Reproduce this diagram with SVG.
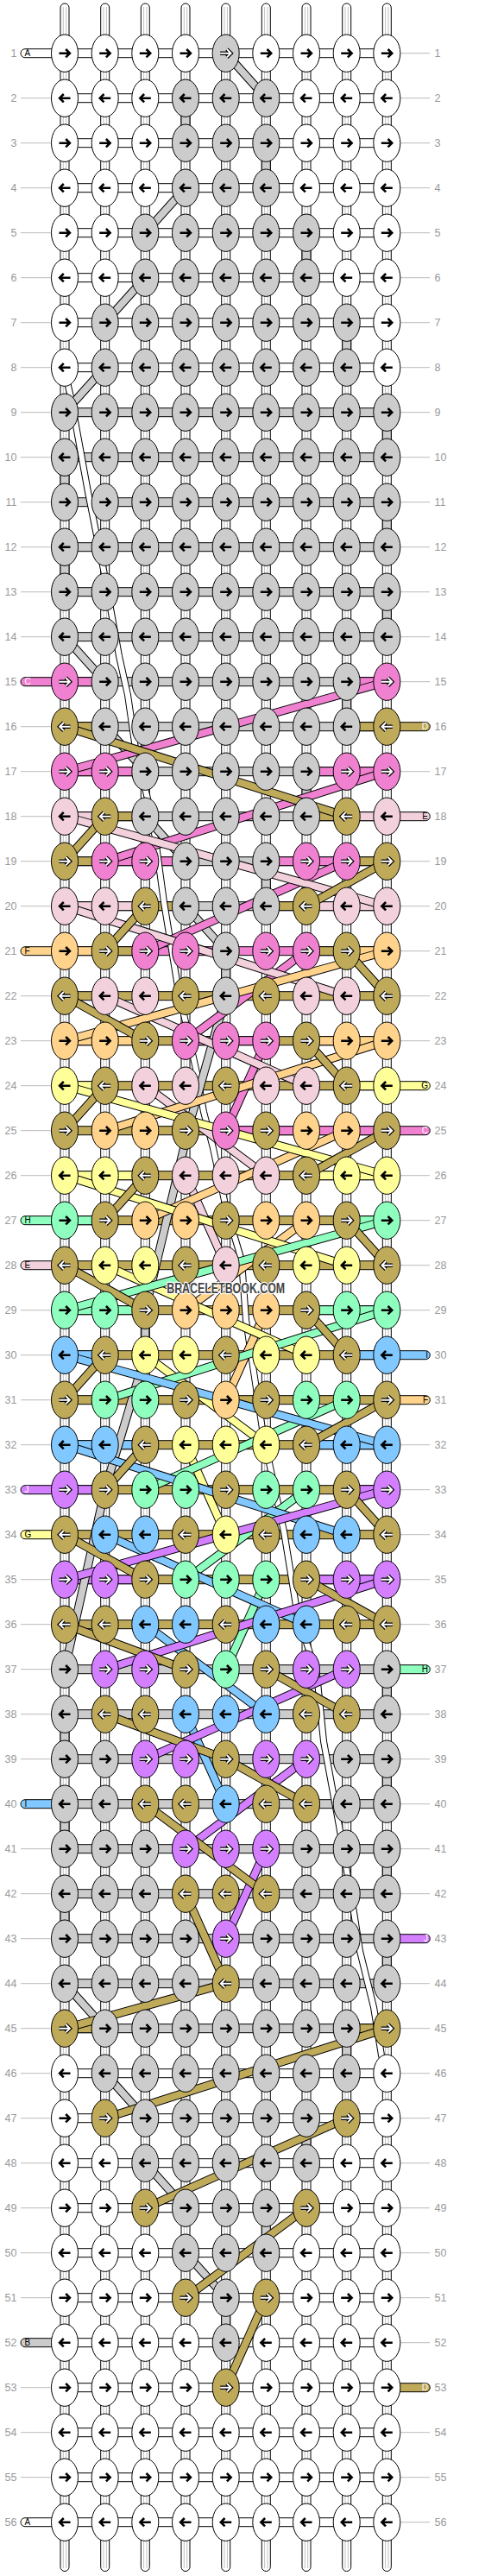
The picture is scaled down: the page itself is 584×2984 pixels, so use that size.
<svg xmlns="http://www.w3.org/2000/svg" width="584" height="2984" viewBox="0 0 584 2984">
<style>
.n text{font-family:"Liberation Sans",Arial,sans-serif;font-size:12.5px;fill:#999}
.nl text{text-anchor:end}
.tk{stroke:#bbb;stroke-width:1;fill:none}
.tube{fill:#fff;stroke:#000;stroke-width:1}
.tl{stroke:#b0b0b0;stroke-width:0.8;fill:none}
.hc path,.vs path,.lb rect{stroke:#000;stroke-width:1}
.lb text{font-family:"Liberation Sans",Arial,sans-serif;font-size:10px;fill:#000}
.lb text.wt{fill:#fff}
.lr text{text-anchor:end}
.W{fill:#fff}.B{fill:#ccc}.C{fill:#f080d0}.D{fill:#bfaa5a}.E{fill:#f2d0dc}.F{fill:#ffd38c}.G{fill:#ffff99}.H{fill:#8fffbf}.I{fill:#80c8ff}.J{fill:#d37fff}
.dg path{fill:none;vector-effect:non-scaling-stroke;stroke-linecap:butt;stroke-linejoin:round}
.dg .o{stroke:#000;stroke-width:10}
.dg .f{stroke-width:8}
.sB{stroke:#ccc}.sC{stroke:#f080d0}.sD{stroke:#bfaa5a}.sE{stroke:#f2d0dc}.sF{stroke:#ffd38c}.sG{stroke:#ffff99}.sH{stroke:#8fffbf}.sI{stroke:#80c8ff}.sJ{stroke:#d37fff}
.ws path{fill:none;stroke-linejoin:round}
</style>
<defs>
<ellipse id="e" rx="15.5" ry="21.7" stroke="#000" stroke-width="1"/>
<path id="a" d="M-6.5 0H5M1.2-4.7L5.9 0L1.2 4.7" fill="none"/>
<g id="s"><use href="#a" stroke="#000" stroke-width="2.6"/></g>
<g id="h"><use href="#a" stroke="#000" stroke-width="4.4"/><use href="#a" stroke="#fff" stroke-width="2"/></g>
<g id="Wr"><use href="#e" fill="#fff"/><use href="#s"/></g>
<g id="Wl"><use href="#e" fill="#fff"/><use href="#s" transform="scale(-1 1)"/></g>
<g id="Br"><use href="#e" fill="#ccc"/><use href="#s"/></g>
<g id="Bl"><use href="#e" fill="#ccc"/><use href="#s" transform="scale(-1 1)"/></g>
<g id="Bh"><use href="#e" fill="#ccc"/><use href="#h"/></g>
<g id="Cr"><use href="#e" fill="#f080d0"/><use href="#h"/></g>
<g id="Cl"><use href="#e" fill="#f080d0"/><use href="#h" transform="scale(-1 1)"/></g>
<g id="Dr"><use href="#e" fill="#bfaa5a"/><use href="#h"/></g>
<g id="Dl"><use href="#e" fill="#bfaa5a"/><use href="#h" transform="scale(-1 1)"/></g>
<g id="Er"><use href="#e" fill="#f2d0dc"/><use href="#s"/></g>
<g id="El"><use href="#e" fill="#f2d0dc"/><use href="#s" transform="scale(-1 1)"/></g>
<g id="Fr"><use href="#e" fill="#ffd38c"/><use href="#s"/></g>
<g id="Fl"><use href="#e" fill="#ffd38c"/><use href="#s" transform="scale(-1 1)"/></g>
<g id="Gr"><use href="#e" fill="#ffff99"/><use href="#s"/></g>
<g id="Gl"><use href="#e" fill="#ffff99"/><use href="#s" transform="scale(-1 1)"/></g>
<g id="Hr"><use href="#e" fill="#8fffbf"/><use href="#s"/></g>
<g id="Hl"><use href="#e" fill="#8fffbf"/><use href="#s" transform="scale(-1 1)"/></g>
<g id="Ir"><use href="#e" fill="#80c8ff"/><use href="#s"/></g>
<g id="Il"><use href="#e" fill="#80c8ff"/><use href="#s" transform="scale(-1 1)"/></g>
<g id="Jr"><use href="#e" fill="#d37fff"/><use href="#h"/></g>
<g id="Jl"><use href="#e" fill="#d37fff"/><use href="#h" transform="scale(-1 1)"/></g>
</defs>
<rect width="584" height="2984" fill="#fff"/>
<g id="rownumbers" class="n">
<g class="nl"><text x="19.5" y="66">1</text><text x="19.5" y="118">2</text><text x="19.5" y="170">3</text><text x="19.5" y="222">4</text><text x="19.5" y="274">5</text><text x="19.5" y="326">6</text><text x="19.5" y="378">7</text><text x="19.5" y="430">8</text><text x="19.5" y="482">9</text><text x="19.5" y="534">10</text><text x="19.5" y="586">11</text><text x="19.5" y="638">12</text><text x="19.5" y="690">13</text><text x="19.5" y="742">14</text><text x="19.5" y="794">15</text><text x="19.5" y="846">16</text><text x="19.5" y="898">17</text><text x="19.5" y="950">18</text><text x="19.5" y="1002">19</text><text x="19.5" y="1054">20</text><text x="19.5" y="1106">21</text><text x="19.5" y="1158">22</text><text x="19.5" y="1210">23</text><text x="19.5" y="1262">24</text><text x="19.5" y="1314">25</text><text x="19.5" y="1366">26</text><text x="19.5" y="1418">27</text><text x="19.5" y="1470">28</text><text x="19.5" y="1522">29</text><text x="19.5" y="1574">30</text><text x="19.5" y="1626">31</text><text x="19.5" y="1678">32</text><text x="19.5" y="1730">33</text><text x="19.5" y="1782">34</text><text x="19.5" y="1834">35</text><text x="19.5" y="1886">36</text><text x="19.5" y="1938">37</text><text x="19.5" y="1990">38</text><text x="19.5" y="2042">39</text><text x="19.5" y="2094">40</text><text x="19.5" y="2146">41</text><text x="19.5" y="2198">42</text><text x="19.5" y="2250">43</text><text x="19.5" y="2302">44</text><text x="19.5" y="2354">45</text><text x="19.5" y="2406">46</text><text x="19.5" y="2458">47</text><text x="19.5" y="2510">48</text><text x="19.5" y="2562">49</text><text x="19.5" y="2614">50</text><text x="19.5" y="2666">51</text><text x="19.5" y="2718">52</text><text x="19.5" y="2770">53</text><text x="19.5" y="2822">54</text><text x="19.5" y="2874">55</text><text x="19.5" y="2926">56</text></g>
<g><text x="503.5" y="66">1</text><text x="503.5" y="118">2</text><text x="503.5" y="170">3</text><text x="503.5" y="222">4</text><text x="503.5" y="274">5</text><text x="503.5" y="326">6</text><text x="503.5" y="378">7</text><text x="503.5" y="430">8</text><text x="503.5" y="482">9</text><text x="503.5" y="534">10</text><text x="503.5" y="586">11</text><text x="503.5" y="638">12</text><text x="503.5" y="690">13</text><text x="503.5" y="742">14</text><text x="503.5" y="794">15</text><text x="503.5" y="846">16</text><text x="503.5" y="898">17</text><text x="503.5" y="950">18</text><text x="503.5" y="1002">19</text><text x="503.5" y="1054">20</text><text x="503.5" y="1106">21</text><text x="503.5" y="1158">22</text><text x="503.5" y="1210">23</text><text x="503.5" y="1262">24</text><text x="503.5" y="1314">25</text><text x="503.5" y="1366">26</text><text x="503.5" y="1418">27</text><text x="503.5" y="1470">28</text><text x="503.5" y="1522">29</text><text x="503.5" y="1574">30</text><text x="503.5" y="1626">31</text><text x="503.5" y="1678">32</text><text x="503.5" y="1730">33</text><text x="503.5" y="1782">34</text><text x="503.5" y="1834">35</text><text x="503.5" y="1886">36</text><text x="503.5" y="1938">37</text><text x="503.5" y="1990">38</text><text x="503.5" y="2042">39</text><text x="503.5" y="2094">40</text><text x="503.5" y="2146">41</text><text x="503.5" y="2198">42</text><text x="503.5" y="2250">43</text><text x="503.5" y="2302">44</text><text x="503.5" y="2354">45</text><text x="503.5" y="2406">46</text><text x="503.5" y="2458">47</text><text x="503.5" y="2510">48</text><text x="503.5" y="2562">49</text><text x="503.5" y="2614">50</text><text x="503.5" y="2666">51</text><text x="503.5" y="2718">52</text><text x="503.5" y="2770">53</text><text x="503.5" y="2822">54</text><text x="503.5" y="2874">55</text><text x="503.5" y="2926">56</text></g>
</g>
<g id="ticks" class="tk">
<path d="M24 113.7H59M24 165.7H59M24 217.7H59M24 269.7H59M24 321.7H59M24 373.7H59M24 425.7H59M24 477.7H59M24 529.7H59M24 581.7H59M24 633.7H59M24 685.7H59M24 737.7H59M24 841.7H59M24 893.7H59M24 945.7H59M24 997.7H59M24 1049.7H59M24 1153.7H59M24 1205.7H59M24 1257.7H59M24 1309.7H59M24 1361.7H59M24 1517.7H59M24 1569.7H59M24 1621.7H59M24 1673.7H59M24 1829.7H59M24 1881.7H59M24 1933.7H59M24 1985.7H59M24 2037.7H59M24 2141.7H59M24 2193.7H59M24 2245.7H59M24 2297.7H59M24 2349.7H59M24 2401.7H59M24 2453.7H59M24 2505.7H59M24 2557.7H59M24 2609.7H59M24 2661.7H59M24 2765.7H59M24 2817.7H59M24 2869.7H59"/>
<path d="M464 61.7H498M464 113.7H498M464 165.7H498M464 217.7H498M464 269.7H498M464 321.7H498M464 373.7H498M464 425.7H498M464 477.7H498M464 529.7H498M464 581.7H498M464 633.7H498M464 685.7H498M464 737.7H498M464 789.7H498M464 893.7H498M464 997.7H498M464 1049.7H498M464 1101.7H498M464 1153.7H498M464 1205.7H498M464 1361.7H498M464 1413.7H498M464 1465.7H498M464 1517.7H498M464 1673.7H498M464 1725.7H498M464 1777.7H498M464 1829.7H498M464 1881.7H498M464 1985.7H498M464 2037.7H498M464 2089.7H498M464 2141.7H498M464 2193.7H498M464 2297.7H498M464 2349.7H498M464 2401.7H498M464 2453.7H498M464 2505.7H498M464 2557.7H498M464 2609.7H498M464 2661.7H498M464 2713.7H498M464 2817.7H498M464 2869.7H498M464 2921.7H498"/>
</g>
<g id="tubes">
<rect class="tube" x="70" y="4" width="10" height="2974.5" rx="5"/><rect class="tube" x="116.7" y="4" width="10" height="2974.5" rx="5"/><rect class="tube" x="163.3" y="4" width="10" height="2974.5" rx="5"/><rect class="tube" x="210" y="4" width="10" height="2974.5" rx="5"/><rect class="tube" x="256.7" y="4" width="10" height="2974.5" rx="5"/><rect class="tube" x="303.3" y="4" width="10" height="2974.5" rx="5"/><rect class="tube" x="350" y="4" width="10" height="2974.5" rx="5"/><rect class="tube" x="396.7" y="4" width="10" height="2974.5" rx="5"/><rect class="tube" x="443.3" y="4" width="10" height="2974.5" rx="5"/>
<path class="tl" d="M73.3 8V2975M76.7 8V2975M120 8V2975M123.4 8V2975M166.6 8V2975M170 8V2975M213.3 8V2975M216.7 8V2975M260 8V2975M263.4 8V2975M306.6 8V2975M310 8V2975M353.3 8V2975M356.7 8V2975M400 8V2975M403.4 8V2975M446.6 8V2975M450 8V2975"/>
</g>
<g id="vertical-segments" class="vs">
<path class="B" d="M210 113.7h10v52h-10zM303.3 165.7h10v52h-10zM350 269.7h10v52h-10zM396.7 373.7h10v52h-10zM443.3 477.7h10v52h-10zM70 529.7h10v52h-10zM443.3 581.7h10v52h-10zM70 633.7h10v52h-10zM443.3 685.7h10v52h-10zM396.7 789.7h10v52h-10zM350 893.7h10v52h-10zM303.3 997.7h10v52h-10zM256.7 1101.7h10v52h-10zM443.3 1933.7h10v52h-10zM70 1985.7h10v52h-10zM443.3 2037.7h10v52h-10zM70 2089.7h10v52h-10zM443.3 2141.7h10v52h-10zM70 2193.7h10v52h-10zM443.3 2245.7h10v52h-10zM396.7 2349.7h10v52h-10zM350 2453.7h10v52h-10zM303.3 2557.7h10v52h-10zM256.7 2661.7h10v52h-10z"/>
</g>
<g id="labels" class="lb">
<rect class="W" x="24" y="56.7" width="42" height="10" rx="5"/><text x="28.5" y="65.3">A</text>
<rect class="C" x="24" y="784.7" width="42" height="10" rx="5"/><text class="wt" x="28.5" y="793.3">C</text>
<rect class="F" x="24" y="1096.7" width="42" height="10" rx="5"/><text x="28.5" y="1105.3">F</text>
<rect class="H" x="24" y="1408.7" width="42" height="10" rx="5"/><text x="28.5" y="1417.3">H</text>
<rect class="E" x="24" y="1460.7" width="42" height="10" rx="5"/><text x="28.5" y="1469.3">E</text>
<rect class="J" x="24" y="1720.7" width="42" height="10" rx="5"/><text class="wt" x="28.5" y="1729.3">J</text>
<rect class="G" x="24" y="1772.7" width="42" height="10" rx="5"/><text x="28.5" y="1781.3">G</text>
<rect class="I" x="24" y="2084.7" width="42" height="10" rx="5"/><text x="28.5" y="2093.3">I</text>
<rect class="B" x="24" y="2708.7" width="42" height="10" rx="5"/><text x="28.5" y="2717.3">B</text>
<rect class="W" x="24" y="2916.7" width="42" height="10" rx="5"/><text x="28.5" y="2925.3">A</text>
<g class="lr">
<rect class="D" x="440" y="836.7" width="58.3" height="10" rx="5"/><text class="wt" x="496" y="845.3">D</text>
<rect class="E" x="440" y="940.7" width="58.3" height="10" rx="5"/><text x="496" y="949.3">E</text>
<rect class="G" x="440" y="1252.7" width="58.3" height="10" rx="5"/><text x="496" y="1261.3">G</text>
<rect class="C" x="440" y="1304.7" width="58.3" height="10" rx="5"/><text class="wt" x="496" y="1313.3">C</text>
<rect class="I" x="440" y="1564.7" width="58.3" height="10" rx="5"/><text x="496" y="1573.3">I</text>
<rect class="F" x="440" y="1616.7" width="58.3" height="10" rx="5"/><text x="496" y="1625.3">F</text>
<rect class="H" x="440" y="1928.7" width="58.3" height="10" rx="5"/><text x="496" y="1937.3">H</text>
<rect class="J" x="440" y="2240.7" width="58.3" height="10" rx="5"/><text class="wt" x="496" y="2249.3">J</text>
<rect class="D" x="440" y="2760.7" width="58.3" height="10" rx="5"/><text class="wt" x="496" y="2769.3">D</text>
</g>
</g>
<g id="row-strings" class="hc">
<path class="W" d="M75 56.7h373.3v10H75zM75 108.7h373.3v10H75zM75 160.7h373.3v10H75zM75 212.7h373.3v10H75zM75 264.7h373.3v10H75zM75 316.7h373.3v10H75zM75 368.7h373.3v10H75zM75 420.7h373.3v10H75zM75 2396.7h373.3v10H75zM75 2448.7h373.3v10H75zM75 2500.7h373.3v10H75zM75 2552.7h373.3v10H75zM75 2604.7h373.3v10H75zM75 2656.7h373.3v10H75zM75 2708.7h373.3v10H75zM75 2760.7h373.3v10H75zM75 2812.7h373.3v10H75zM75 2864.7h373.3v10H75zM75 2916.7h373.3v10H75z"/>
<path class="B" d="M75 472.7h373.3v10H75zM75 524.7h373.3v10H75zM75 576.7h373.3v10H75zM75 628.7h373.3v10H75zM75 680.7h373.3v10H75zM75 732.7h373.3v10H75zM75 784.7h373.3v10H75zM75 836.7h373.3v10H75zM75 888.7h373.3v10H75zM75 940.7h373.3v10H75zM75 992.7h373.3v10H75zM75 1044.7h373.3v10H75zM75 1928.7h373.3v10H75zM75 1980.7h373.3v10H75zM75 2032.7h373.3v10H75zM75 2084.7h373.3v10H75zM75 2136.7h373.3v10H75zM75 2188.7h373.3v10H75zM75 2240.7h373.3v10H75zM75 2292.7h373.3v10H75zM75 2344.7h373.3v10H75z"/>
<path class="C" d="M75 1096.7h373.3v10H75z"/>
<path class="D" d="M75 1148.7h373.3v10H75zM75 1200.7h373.3v10H75zM75 1252.7h373.3v10H75zM75 1304.7h373.3v10H75zM75 1356.7h373.3v10H75zM75 1408.7h373.3v10H75zM75 1460.7h373.3v10H75zM75 1512.7h373.3v10H75zM75 1564.7h373.3v10H75zM75 1616.7h373.3v10H75zM75 1668.7h373.3v10H75zM75 1720.7h373.3v10H75zM75 1772.7h373.3v10H75zM75 1824.7h373.3v10H75zM75 1876.7h373.3v10H75z"/>
<path class="C" d="M75 784.7h46.7v10H75zM401.7 784.7h46.6v10h-46.6zM75 888.7h93.3v10H75zM355 888.7h93.3v10h-93.3zM121.7 992.7h93.3v10h-93.3zM308.3 992.7h93.3v10h-93.3zM215 1200.7h93.3v10h-93.3zM261.7 1304.7h186.6v10h-186.6z"/>
<path class="D" d="M75 836.7h46.7v10H75zM401.7 836.7h46.6v10h-46.6zM121.7 940.7h46.7v10h-46.7zM355 940.7h46.7v10h-46.7zM75 992.7h46.7v10H75zM401.7 992.7h46.6v10h-46.6zM168.3 1044.7h46.7v10h-46.7zM308.3 1044.7h46.7v10h-46.7zM121.7 1096.7h46.7v10h-46.7zM355 1096.7h46.7v10h-46.7zM75 2344.7h46.7v10H75zM401.7 2344.7h46.6v10h-46.6z"/>
<path class="E" d="M75 940.7h46.7v10H75zM401.7 940.7h46.6v10h-46.6zM75 1044.7h93.3v10H75zM355 1044.7h93.3v10h-93.3z"/>
<path class="F" d="M75 1096.7h46.7v10H75zM401.7 1096.7h46.6v10h-46.6zM75 1200.7h93.3v10H75zM355 1200.7h93.3v10h-93.3z"/>
<path class="G" d="M75 1252.7h46.7v10H75zM401.7 1252.7h46.6v10h-46.6zM75 1356.7h93.3v10H75zM355 1356.7h93.3v10h-93.3z"/>
<path class="H" d="M75 1408.7h46.7v10H75zM401.7 1408.7h46.6v10h-46.6zM75 1512.7h93.3v10H75zM355 1512.7h93.3v10h-93.3z"/>
<path class="I" d="M75 1564.7h46.7v10H75zM401.7 1564.7h46.6v10h-46.6zM75 1668.7h93.3v10H75zM355 1668.7h93.3v10h-93.3z"/>
<path class="J" d="M75 1720.7h46.7v10H75zM401.7 1720.7h46.6v10h-46.6zM75 1824.7h93.3v10H75zM355 1824.7h93.3v10h-93.3z"/>
</g>
<g id="connectors">
<g class="ws"><path d="M75 430L82 460L102 570L120 660L138 760L148 805L157 867L177 950L190 1045L206 1143L228 1243L236 1288L247 1330L262 1400L280 1460L285 1529L305 1662L329 1774L345 1872L367 1939L375 2017L393 2115L410 2215L417 2260L433 2325L442 2381L448 2402" stroke="#000" stroke-width="8"/><path d="M75 430L82 460L102 570L120 660L138 760L148 805L157 867L177 950L190 1045L206 1143L228 1243L236 1288L247 1330L262 1400L280 1460L285 1529L305 1662L329 1774L345 1872L367 1939L375 2017L393 2115L410 2215L417 2260L433 2325L442 2381L448 2402" stroke="#fff" stroke-width="6"/></g>
<g class="dg" transform="matrix(46.6667 0 0 52 28.3333 9.7)">
<path class="o" d="M5 1L6 2M4 4L3 5M3 6L2 7M2 8L1 9M1 14L2 15M2 16L3 17M3 18L4 19M4 20L5 21M5 22L4.11 24.81L3 29L3 30L2 33L1 37M1 44L2 45M2 46L3 47M3 48L4 49M4 50L5 51"/>
<path class="f sB" d="M5 1L6 2M4 4L3 5M3 6L2 7M2 8L1 9M1 14L2 15M2 16L3 17M3 18L4 19M4 20L5 21M5 22L4.11 24.81L3 29L3 30L2 33L1 37M1 44L2 45M2 46L3 47M3 48L4 49M4 50L5 51"/>
<path class="o" d="M9 15L1 17M9 17L2 19M8 19L3 21M7 21L4 23M6 23L5 25"/>
<path class="f sC" d="M9 15L1 17M9 17L2 19M8 19L3 21M7 21L4 23M6 23L5 25"/>
<path class="o" d="M1 18L9 20M1 20L8 22M2 22L7 24M3 24L6 26M4 26L5 28"/>
<path class="f sE" d="M1 18L9 20M1 20L8 22M2 22L7 24M3 24L6 26M4 26L5 28"/>
<path class="o" d="M9 21L1 23M9 23L2 25M8 25L3 27M7 27L4 29M6 29L5 31"/>
<path class="f sF" d="M9 21L1 23M9 23L2 25M8 25L3 27M7 27L4 29M6 29L5 31"/>
<path class="o" d="M1 24L9 26M1 26L8 28M2 28L7 30M3 30L6 32M4 32L5 34"/>
<path class="f sG" d="M1 24L9 26M1 26L8 28M2 28L7 30M3 30L6 32M4 32L5 34"/>
<path class="o" d="M9 27L1 29M9 29L2 31M8 31L3 33M7 33L4 35M6 35L5 37"/>
<path class="f sH" d="M9 27L1 29M9 29L2 31M8 31L3 33M7 33L4 35M6 35L5 37"/>
<path class="o" d="M1 30L9 32M1 32L8 34M2 34L7 36M3 36L6 38M4 38L5 40"/>
<path class="f sI" d="M1 30L9 32M1 32L8 34M2 34L7 36M3 36L6 38M4 38L5 40"/>
<path class="o" d="M9 33L1 35M9 35L2 37M8 37L3 39M7 39L4 41M6 41L5 43"/>
<path class="f sJ" d="M9 33L1 35M9 35L2 37M8 37L3 39M7 39L4 41M6 41L5 43"/>
<path class="o" d="M1 16L8 18M2 18L1 19M9 19L7 20M3 20L2 21M8 21L9 22M1 22L3 23M7 23L8 24M2 24L1 25M9 25L7 26M3 26L2 27M8 27L9 28M1 28L3 29M7 29L8 30M2 30L1 31M9 31L7 32M3 32L2 33M8 33L9 34M1 34L3 35M7 35L9 36M1 36L4 37M6 37L8 38M2 38L5 39M5 39L7 40M3 40L6 42M4 42L5 44M5 44L1 45M9 45L2 47M8 47L3 49M7 49L4 51M6 51L5 53"/>
<path class="f sD" d="M1 16L8 18M2 18L1 19M9 19L7 20M3 20L2 21M8 21L9 22M1 22L3 23M7 23L8 24M2 24L1 25M9 25L7 26M3 26L2 27M8 27L9 28M1 28L3 29M7 29L8 30M2 30L1 31M9 31L7 32M3 32L2 33M8 33L9 34M1 34L3 35M7 35L9 36M1 36L4 37M6 37L8 38M2 38L5 39M5 39L7 40M3 40L6 42M4 42L5 44M5 44L1 45M9 45L2 47M8 47L3 49M7 49L4 51M6 51L5 53"/>
</g>
</g>
<g id="knots">
<g id="row1" transform="translate(0,61.7)"><use id="k1-1" href="#Wr" x="75"/><use id="k1-2" href="#Wr" x="121.7"/><use id="k1-3" href="#Wr" x="168.3"/><use id="k1-4" href="#Wr" x="215"/><use id="k1-5" href="#Bh" x="261.7"/><use id="k1-6" href="#Wr" x="308.3"/><use id="k1-7" href="#Wr" x="355"/><use id="k1-8" href="#Wr" x="401.7"/><use id="k1-9" href="#Wr" x="448.3"/></g>
<g id="row2" transform="translate(0,113.7)"><use id="k2-1" href="#Wl" x="75"/><use id="k2-2" href="#Wl" x="121.7"/><use id="k2-3" href="#Wl" x="168.3"/><use id="k2-4" href="#Bl" x="215"/><use id="k2-5" href="#Bl" x="261.7"/><use id="k2-6" href="#Bl" x="308.3"/><use id="k2-7" href="#Wl" x="355"/><use id="k2-8" href="#Wl" x="401.7"/><use id="k2-9" href="#Wl" x="448.3"/></g>
<g id="row3" transform="translate(0,165.7)"><use id="k3-1" href="#Wr" x="75"/><use id="k3-2" href="#Wr" x="121.7"/><use id="k3-3" href="#Wr" x="168.3"/><use id="k3-4" href="#Br" x="215"/><use id="k3-5" href="#Br" x="261.7"/><use id="k3-6" href="#Br" x="308.3"/><use id="k3-7" href="#Wr" x="355"/><use id="k3-8" href="#Wr" x="401.7"/><use id="k3-9" href="#Wr" x="448.3"/></g>
<g id="row4" transform="translate(0,217.7)"><use id="k4-1" href="#Wl" x="75"/><use id="k4-2" href="#Wl" x="121.7"/><use id="k4-3" href="#Wl" x="168.3"/><use id="k4-4" href="#Bl" x="215"/><use id="k4-5" href="#Bl" x="261.7"/><use id="k4-6" href="#Bl" x="308.3"/><use id="k4-7" href="#Wl" x="355"/><use id="k4-8" href="#Wl" x="401.7"/><use id="k4-9" href="#Wl" x="448.3"/></g>
<g id="row5" transform="translate(0,269.7)"><use id="k5-1" href="#Wr" x="75"/><use id="k5-2" href="#Wr" x="121.7"/><use id="k5-3" href="#Br" x="168.3"/><use id="k5-4" href="#Br" x="215"/><use id="k5-5" href="#Br" x="261.7"/><use id="k5-6" href="#Br" x="308.3"/><use id="k5-7" href="#Br" x="355"/><use id="k5-8" href="#Wr" x="401.7"/><use id="k5-9" href="#Wr" x="448.3"/></g>
<g id="row6" transform="translate(0,321.7)"><use id="k6-1" href="#Wl" x="75"/><use id="k6-2" href="#Wl" x="121.7"/><use id="k6-3" href="#Bl" x="168.3"/><use id="k6-4" href="#Bl" x="215"/><use id="k6-5" href="#Bl" x="261.7"/><use id="k6-6" href="#Bl" x="308.3"/><use id="k6-7" href="#Bl" x="355"/><use id="k6-8" href="#Wl" x="401.7"/><use id="k6-9" href="#Wl" x="448.3"/></g>
<g id="row7" transform="translate(0,373.7)"><use id="k7-1" href="#Wr" x="75"/><use id="k7-2" href="#Br" x="121.7"/><use id="k7-3" href="#Br" x="168.3"/><use id="k7-4" href="#Br" x="215"/><use id="k7-5" href="#Br" x="261.7"/><use id="k7-6" href="#Br" x="308.3"/><use id="k7-7" href="#Br" x="355"/><use id="k7-8" href="#Br" x="401.7"/><use id="k7-9" href="#Wr" x="448.3"/></g>
<g id="row8" transform="translate(0,425.7)"><use id="k8-1" href="#Wl" x="75"/><use id="k8-2" href="#Bl" x="121.7"/><use id="k8-3" href="#Bl" x="168.3"/><use id="k8-4" href="#Bl" x="215"/><use id="k8-5" href="#Bl" x="261.7"/><use id="k8-6" href="#Bl" x="308.3"/><use id="k8-7" href="#Bl" x="355"/><use id="k8-8" href="#Bl" x="401.7"/><use id="k8-9" href="#Wl" x="448.3"/></g>
<g id="row9" transform="translate(0,477.7)"><use id="k9-1" href="#Br" x="75"/><use id="k9-2" href="#Br" x="121.7"/><use id="k9-3" href="#Br" x="168.3"/><use id="k9-4" href="#Br" x="215"/><use id="k9-5" href="#Br" x="261.7"/><use id="k9-6" href="#Br" x="308.3"/><use id="k9-7" href="#Br" x="355"/><use id="k9-8" href="#Br" x="401.7"/><use id="k9-9" href="#Br" x="448.3"/></g>
<g id="row10" transform="translate(0,529.7)"><use id="k10-1" href="#Bl" x="75"/><use id="k10-2" href="#Bl" x="121.7"/><use id="k10-3" href="#Bl" x="168.3"/><use id="k10-4" href="#Bl" x="215"/><use id="k10-5" href="#Bl" x="261.7"/><use id="k10-6" href="#Bl" x="308.3"/><use id="k10-7" href="#Bl" x="355"/><use id="k10-8" href="#Bl" x="401.7"/><use id="k10-9" href="#Bl" x="448.3"/></g>
<g id="row11" transform="translate(0,581.7)"><use id="k11-1" href="#Br" x="75"/><use id="k11-2" href="#Br" x="121.7"/><use id="k11-3" href="#Br" x="168.3"/><use id="k11-4" href="#Br" x="215"/><use id="k11-5" href="#Br" x="261.7"/><use id="k11-6" href="#Br" x="308.3"/><use id="k11-7" href="#Br" x="355"/><use id="k11-8" href="#Br" x="401.7"/><use id="k11-9" href="#Br" x="448.3"/></g>
<g id="row12" transform="translate(0,633.7)"><use id="k12-1" href="#Bl" x="75"/><use id="k12-2" href="#Bl" x="121.7"/><use id="k12-3" href="#Bl" x="168.3"/><use id="k12-4" href="#Bl" x="215"/><use id="k12-5" href="#Bl" x="261.7"/><use id="k12-6" href="#Bl" x="308.3"/><use id="k12-7" href="#Bl" x="355"/><use id="k12-8" href="#Bl" x="401.7"/><use id="k12-9" href="#Bl" x="448.3"/></g>
<g id="row13" transform="translate(0,685.7)"><use id="k13-1" href="#Br" x="75"/><use id="k13-2" href="#Br" x="121.7"/><use id="k13-3" href="#Br" x="168.3"/><use id="k13-4" href="#Br" x="215"/><use id="k13-5" href="#Br" x="261.7"/><use id="k13-6" href="#Br" x="308.3"/><use id="k13-7" href="#Br" x="355"/><use id="k13-8" href="#Br" x="401.7"/><use id="k13-9" href="#Br" x="448.3"/></g>
<g id="row14" transform="translate(0,737.7)"><use id="k14-1" href="#Bl" x="75"/><use id="k14-2" href="#Bl" x="121.7"/><use id="k14-3" href="#Bl" x="168.3"/><use id="k14-4" href="#Bl" x="215"/><use id="k14-5" href="#Bl" x="261.7"/><use id="k14-6" href="#Bl" x="308.3"/><use id="k14-7" href="#Bl" x="355"/><use id="k14-8" href="#Bl" x="401.7"/><use id="k14-9" href="#Bl" x="448.3"/></g>
<g id="row15" transform="translate(0,789.7)"><use id="k15-1" href="#Cr" x="75"/><use id="k15-2" href="#Br" x="121.7"/><use id="k15-3" href="#Br" x="168.3"/><use id="k15-4" href="#Br" x="215"/><use id="k15-5" href="#Br" x="261.7"/><use id="k15-6" href="#Br" x="308.3"/><use id="k15-7" href="#Br" x="355"/><use id="k15-8" href="#Br" x="401.7"/><use id="k15-9" href="#Cr" x="448.3"/></g>
<g id="row16" transform="translate(0,841.7)"><use id="k16-1" href="#Dl" x="75"/><use id="k16-2" href="#Bl" x="121.7"/><use id="k16-3" href="#Bl" x="168.3"/><use id="k16-4" href="#Bl" x="215"/><use id="k16-5" href="#Bl" x="261.7"/><use id="k16-6" href="#Bl" x="308.3"/><use id="k16-7" href="#Bl" x="355"/><use id="k16-8" href="#Bl" x="401.7"/><use id="k16-9" href="#Dl" x="448.3"/></g>
<g id="row17" transform="translate(0,893.7)"><use id="k17-1" href="#Cr" x="75"/><use id="k17-2" href="#Cr" x="121.7"/><use id="k17-3" href="#Br" x="168.3"/><use id="k17-4" href="#Br" x="215"/><use id="k17-5" href="#Br" x="261.7"/><use id="k17-6" href="#Br" x="308.3"/><use id="k17-7" href="#Br" x="355"/><use id="k17-8" href="#Cr" x="401.7"/><use id="k17-9" href="#Cr" x="448.3"/></g>
<g id="row18" transform="translate(0,945.7)"><use id="k18-1" href="#El" x="75"/><use id="k18-2" href="#Dl" x="121.7"/><use id="k18-3" href="#Bl" x="168.3"/><use id="k18-4" href="#Bl" x="215"/><use id="k18-5" href="#Bl" x="261.7"/><use id="k18-6" href="#Bl" x="308.3"/><use id="k18-7" href="#Bl" x="355"/><use id="k18-8" href="#Dl" x="401.7"/><use id="k18-9" href="#El" x="448.3"/></g>
<g id="row19" transform="translate(0,997.7)"><use id="k19-1" href="#Dr" x="75"/><use id="k19-2" href="#Cr" x="121.7"/><use id="k19-3" href="#Cr" x="168.3"/><use id="k19-4" href="#Br" x="215"/><use id="k19-5" href="#Br" x="261.7"/><use id="k19-6" href="#Br" x="308.3"/><use id="k19-7" href="#Cr" x="355"/><use id="k19-8" href="#Cr" x="401.7"/><use id="k19-9" href="#Dr" x="448.3"/></g>
<g id="row20" transform="translate(0,1049.7)"><use id="k20-1" href="#El" x="75"/><use id="k20-2" href="#El" x="121.7"/><use id="k20-3" href="#Dl" x="168.3"/><use id="k20-4" href="#Bl" x="215"/><use id="k20-5" href="#Bl" x="261.7"/><use id="k20-6" href="#Bl" x="308.3"/><use id="k20-7" href="#Dl" x="355"/><use id="k20-8" href="#El" x="401.7"/><use id="k20-9" href="#El" x="448.3"/></g>
<g id="row21" transform="translate(0,1101.7)"><use id="k21-1" href="#Fr" x="75"/><use id="k21-2" href="#Dr" x="121.7"/><use id="k21-3" href="#Cr" x="168.3"/><use id="k21-4" href="#Cr" x="215"/><use id="k21-5" href="#Br" x="261.7"/><use id="k21-6" href="#Cr" x="308.3"/><use id="k21-7" href="#Cr" x="355"/><use id="k21-8" href="#Dr" x="401.7"/><use id="k21-9" href="#Fr" x="448.3"/></g>
<g id="row22" transform="translate(0,1153.7)"><use id="k22-1" href="#Dl" x="75"/><use id="k22-2" href="#El" x="121.7"/><use id="k22-3" href="#El" x="168.3"/><use id="k22-4" href="#Dl" x="215"/><use id="k22-5" href="#Bl" x="261.7"/><use id="k22-6" href="#Dl" x="308.3"/><use id="k22-7" href="#El" x="355"/><use id="k22-8" href="#El" x="401.7"/><use id="k22-9" href="#Dl" x="448.3"/></g>
<g id="row23" transform="translate(0,1205.7)"><use id="k23-1" href="#Fr" x="75"/><use id="k23-2" href="#Fr" x="121.7"/><use id="k23-3" href="#Dr" x="168.3"/><use id="k23-4" href="#Cr" x="215"/><use id="k23-5" href="#Cr" x="261.7"/><use id="k23-6" href="#Cr" x="308.3"/><use id="k23-7" href="#Dr" x="355"/><use id="k23-8" href="#Fr" x="401.7"/><use id="k23-9" href="#Fr" x="448.3"/></g>
<g id="row24" transform="translate(0,1257.7)"><use id="k24-1" href="#Gl" x="75"/><use id="k24-2" href="#Dl" x="121.7"/><use id="k24-3" href="#El" x="168.3"/><use id="k24-4" href="#El" x="215"/><use id="k24-5" href="#Dl" x="261.7"/><use id="k24-6" href="#El" x="308.3"/><use id="k24-7" href="#El" x="355"/><use id="k24-8" href="#Dl" x="401.7"/><use id="k24-9" href="#Gl" x="448.3"/></g>
<g id="row25" transform="translate(0,1309.7)"><use id="k25-1" href="#Dr" x="75"/><use id="k25-2" href="#Fr" x="121.7"/><use id="k25-3" href="#Fr" x="168.3"/><use id="k25-4" href="#Dr" x="215"/><use id="k25-5" href="#Cr" x="261.7"/><use id="k25-6" href="#Dr" x="308.3"/><use id="k25-7" href="#Fr" x="355"/><use id="k25-8" href="#Fr" x="401.7"/><use id="k25-9" href="#Dr" x="448.3"/></g>
<g id="row26" transform="translate(0,1361.7)"><use id="k26-1" href="#Gl" x="75"/><use id="k26-2" href="#Gl" x="121.7"/><use id="k26-3" href="#Dl" x="168.3"/><use id="k26-4" href="#El" x="215"/><use id="k26-5" href="#El" x="261.7"/><use id="k26-6" href="#El" x="308.3"/><use id="k26-7" href="#Dl" x="355"/><use id="k26-8" href="#Gl" x="401.7"/><use id="k26-9" href="#Gl" x="448.3"/></g>
<g id="row27" transform="translate(0,1413.7)"><use id="k27-1" href="#Hr" x="75"/><use id="k27-2" href="#Dr" x="121.7"/><use id="k27-3" href="#Fr" x="168.3"/><use id="k27-4" href="#Fr" x="215"/><use id="k27-5" href="#Dr" x="261.7"/><use id="k27-6" href="#Fr" x="308.3"/><use id="k27-7" href="#Fr" x="355"/><use id="k27-8" href="#Dr" x="401.7"/><use id="k27-9" href="#Hr" x="448.3"/></g>
<g id="row28" transform="translate(0,1465.7)"><use id="k28-1" href="#Dl" x="75"/><use id="k28-2" href="#Gl" x="121.7"/><use id="k28-3" href="#Gl" x="168.3"/><use id="k28-4" href="#Dl" x="215"/><use id="k28-5" href="#El" x="261.7"/><use id="k28-6" href="#Dl" x="308.3"/><use id="k28-7" href="#Gl" x="355"/><use id="k28-8" href="#Gl" x="401.7"/><use id="k28-9" href="#Dl" x="448.3"/></g>
<g id="row29" transform="translate(0,1517.7)"><use id="k29-1" href="#Hr" x="75"/><use id="k29-2" href="#Hr" x="121.7"/><use id="k29-3" href="#Dr" x="168.3"/><use id="k29-4" href="#Fr" x="215"/><use id="k29-5" href="#Fr" x="261.7"/><use id="k29-6" href="#Fr" x="308.3"/><use id="k29-7" href="#Dr" x="355"/><use id="k29-8" href="#Hr" x="401.7"/><use id="k29-9" href="#Hr" x="448.3"/></g>
<g id="row30" transform="translate(0,1569.7)"><use id="k30-1" href="#Il" x="75"/><use id="k30-2" href="#Dl" x="121.7"/><use id="k30-3" href="#Gl" x="168.3"/><use id="k30-4" href="#Gl" x="215"/><use id="k30-5" href="#Dl" x="261.7"/><use id="k30-6" href="#Gl" x="308.3"/><use id="k30-7" href="#Gl" x="355"/><use id="k30-8" href="#Dl" x="401.7"/><use id="k30-9" href="#Il" x="448.3"/></g>
<g id="row31" transform="translate(0,1621.7)"><use id="k31-1" href="#Dr" x="75"/><use id="k31-2" href="#Hr" x="121.7"/><use id="k31-3" href="#Hr" x="168.3"/><use id="k31-4" href="#Dr" x="215"/><use id="k31-5" href="#Fr" x="261.7"/><use id="k31-6" href="#Dr" x="308.3"/><use id="k31-7" href="#Hr" x="355"/><use id="k31-8" href="#Hr" x="401.7"/><use id="k31-9" href="#Dr" x="448.3"/></g>
<g id="row32" transform="translate(0,1673.7)"><use id="k32-1" href="#Il" x="75"/><use id="k32-2" href="#Il" x="121.7"/><use id="k32-3" href="#Dl" x="168.3"/><use id="k32-4" href="#Gl" x="215"/><use id="k32-5" href="#Gl" x="261.7"/><use id="k32-6" href="#Gl" x="308.3"/><use id="k32-7" href="#Dl" x="355"/><use id="k32-8" href="#Il" x="401.7"/><use id="k32-9" href="#Il" x="448.3"/></g>
<g id="row33" transform="translate(0,1725.7)"><use id="k33-1" href="#Jr" x="75"/><use id="k33-2" href="#Dr" x="121.7"/><use id="k33-3" href="#Hr" x="168.3"/><use id="k33-4" href="#Hr" x="215"/><use id="k33-5" href="#Dr" x="261.7"/><use id="k33-6" href="#Hr" x="308.3"/><use id="k33-7" href="#Hr" x="355"/><use id="k33-8" href="#Dr" x="401.7"/><use id="k33-9" href="#Jr" x="448.3"/></g>
<g id="row34" transform="translate(0,1777.7)"><use id="k34-1" href="#Dl" x="75"/><use id="k34-2" href="#Il" x="121.7"/><use id="k34-3" href="#Il" x="168.3"/><use id="k34-4" href="#Dl" x="215"/><use id="k34-5" href="#Gl" x="261.7"/><use id="k34-6" href="#Dl" x="308.3"/><use id="k34-7" href="#Il" x="355"/><use id="k34-8" href="#Il" x="401.7"/><use id="k34-9" href="#Dl" x="448.3"/></g>
<g id="row35" transform="translate(0,1829.7)"><use id="k35-1" href="#Jr" x="75"/><use id="k35-2" href="#Jr" x="121.7"/><use id="k35-3" href="#Dr" x="168.3"/><use id="k35-4" href="#Hr" x="215"/><use id="k35-5" href="#Hr" x="261.7"/><use id="k35-6" href="#Hr" x="308.3"/><use id="k35-7" href="#Dr" x="355"/><use id="k35-8" href="#Jr" x="401.7"/><use id="k35-9" href="#Jr" x="448.3"/></g>
<g id="row36" transform="translate(0,1881.7)"><use id="k36-1" href="#Dl" x="75"/><use id="k36-2" href="#Dl" x="121.7"/><use id="k36-3" href="#Il" x="168.3"/><use id="k36-4" href="#Il" x="215"/><use id="k36-5" href="#Dl" x="261.7"/><use id="k36-6" href="#Il" x="308.3"/><use id="k36-7" href="#Il" x="355"/><use id="k36-8" href="#Dl" x="401.7"/><use id="k36-9" href="#Dl" x="448.3"/></g>
<g id="row37" transform="translate(0,1933.7)"><use id="k37-1" href="#Br" x="75"/><use id="k37-2" href="#Jr" x="121.7"/><use id="k37-3" href="#Jr" x="168.3"/><use id="k37-4" href="#Dr" x="215"/><use id="k37-5" href="#Hr" x="261.7"/><use id="k37-6" href="#Dr" x="308.3"/><use id="k37-7" href="#Jr" x="355"/><use id="k37-8" href="#Jr" x="401.7"/><use id="k37-9" href="#Br" x="448.3"/></g>
<g id="row38" transform="translate(0,1985.7)"><use id="k38-1" href="#Bl" x="75"/><use id="k38-2" href="#Dl" x="121.7"/><use id="k38-3" href="#Dl" x="168.3"/><use id="k38-4" href="#Il" x="215"/><use id="k38-5" href="#Il" x="261.7"/><use id="k38-6" href="#Il" x="308.3"/><use id="k38-7" href="#Dl" x="355"/><use id="k38-8" href="#Dl" x="401.7"/><use id="k38-9" href="#Bl" x="448.3"/></g>
<g id="row39" transform="translate(0,2037.7)"><use id="k39-1" href="#Br" x="75"/><use id="k39-2" href="#Br" x="121.7"/><use id="k39-3" href="#Jr" x="168.3"/><use id="k39-4" href="#Jr" x="215"/><use id="k39-5" href="#Dr" x="261.7"/><use id="k39-6" href="#Jr" x="308.3"/><use id="k39-7" href="#Jr" x="355"/><use id="k39-8" href="#Br" x="401.7"/><use id="k39-9" href="#Br" x="448.3"/></g>
<g id="row40" transform="translate(0,2089.7)"><use id="k40-1" href="#Bl" x="75"/><use id="k40-2" href="#Bl" x="121.7"/><use id="k40-3" href="#Dl" x="168.3"/><use id="k40-4" href="#Dl" x="215"/><use id="k40-5" href="#Il" x="261.7"/><use id="k40-6" href="#Dl" x="308.3"/><use id="k40-7" href="#Dl" x="355"/><use id="k40-8" href="#Bl" x="401.7"/><use id="k40-9" href="#Bl" x="448.3"/></g>
<g id="row41" transform="translate(0,2141.7)"><use id="k41-1" href="#Br" x="75"/><use id="k41-2" href="#Br" x="121.7"/><use id="k41-3" href="#Br" x="168.3"/><use id="k41-4" href="#Jr" x="215"/><use id="k41-5" href="#Jr" x="261.7"/><use id="k41-6" href="#Jr" x="308.3"/><use id="k41-7" href="#Br" x="355"/><use id="k41-8" href="#Br" x="401.7"/><use id="k41-9" href="#Br" x="448.3"/></g>
<g id="row42" transform="translate(0,2193.7)"><use id="k42-1" href="#Bl" x="75"/><use id="k42-2" href="#Bl" x="121.7"/><use id="k42-3" href="#Bl" x="168.3"/><use id="k42-4" href="#Dl" x="215"/><use id="k42-5" href="#Dl" x="261.7"/><use id="k42-6" href="#Dl" x="308.3"/><use id="k42-7" href="#Bl" x="355"/><use id="k42-8" href="#Bl" x="401.7"/><use id="k42-9" href="#Bl" x="448.3"/></g>
<g id="row43" transform="translate(0,2245.7)"><use id="k43-1" href="#Br" x="75"/><use id="k43-2" href="#Br" x="121.7"/><use id="k43-3" href="#Br" x="168.3"/><use id="k43-4" href="#Br" x="215"/><use id="k43-5" href="#Jr" x="261.7"/><use id="k43-6" href="#Br" x="308.3"/><use id="k43-7" href="#Br" x="355"/><use id="k43-8" href="#Br" x="401.7"/><use id="k43-9" href="#Br" x="448.3"/></g>
<g id="row44" transform="translate(0,2297.7)"><use id="k44-1" href="#Bl" x="75"/><use id="k44-2" href="#Bl" x="121.7"/><use id="k44-3" href="#Bl" x="168.3"/><use id="k44-4" href="#Bl" x="215"/><use id="k44-5" href="#Dl" x="261.7"/><use id="k44-6" href="#Bl" x="308.3"/><use id="k44-7" href="#Bl" x="355"/><use id="k44-8" href="#Bl" x="401.7"/><use id="k44-9" href="#Bl" x="448.3"/></g>
<g id="row45" transform="translate(0,2349.7)"><use id="k45-1" href="#Dr" x="75"/><use id="k45-2" href="#Br" x="121.7"/><use id="k45-3" href="#Br" x="168.3"/><use id="k45-4" href="#Br" x="215"/><use id="k45-5" href="#Br" x="261.7"/><use id="k45-6" href="#Br" x="308.3"/><use id="k45-7" href="#Br" x="355"/><use id="k45-8" href="#Br" x="401.7"/><use id="k45-9" href="#Dr" x="448.3"/></g>
<g id="row46" transform="translate(0,2401.7)"><use id="k46-1" href="#Wl" x="75"/><use id="k46-2" href="#Bl" x="121.7"/><use id="k46-3" href="#Bl" x="168.3"/><use id="k46-4" href="#Bl" x="215"/><use id="k46-5" href="#Bl" x="261.7"/><use id="k46-6" href="#Bl" x="308.3"/><use id="k46-7" href="#Bl" x="355"/><use id="k46-8" href="#Bl" x="401.7"/><use id="k46-9" href="#Wl" x="448.3"/></g>
<g id="row47" transform="translate(0,2453.7)"><use id="k47-1" href="#Wr" x="75"/><use id="k47-2" href="#Dr" x="121.7"/><use id="k47-3" href="#Br" x="168.3"/><use id="k47-4" href="#Br" x="215"/><use id="k47-5" href="#Br" x="261.7"/><use id="k47-6" href="#Br" x="308.3"/><use id="k47-7" href="#Br" x="355"/><use id="k47-8" href="#Dr" x="401.7"/><use id="k47-9" href="#Wr" x="448.3"/></g>
<g id="row48" transform="translate(0,2505.7)"><use id="k48-1" href="#Wl" x="75"/><use id="k48-2" href="#Wl" x="121.7"/><use id="k48-3" href="#Bl" x="168.3"/><use id="k48-4" href="#Bl" x="215"/><use id="k48-5" href="#Bl" x="261.7"/><use id="k48-6" href="#Bl" x="308.3"/><use id="k48-7" href="#Bl" x="355"/><use id="k48-8" href="#Wl" x="401.7"/><use id="k48-9" href="#Wl" x="448.3"/></g>
<g id="row49" transform="translate(0,2557.7)"><use id="k49-1" href="#Wr" x="75"/><use id="k49-2" href="#Wr" x="121.7"/><use id="k49-3" href="#Dr" x="168.3"/><use id="k49-4" href="#Br" x="215"/><use id="k49-5" href="#Br" x="261.7"/><use id="k49-6" href="#Br" x="308.3"/><use id="k49-7" href="#Dr" x="355"/><use id="k49-8" href="#Wr" x="401.7"/><use id="k49-9" href="#Wr" x="448.3"/></g>
<g id="row50" transform="translate(0,2609.7)"><use id="k50-1" href="#Wl" x="75"/><use id="k50-2" href="#Wl" x="121.7"/><use id="k50-3" href="#Wl" x="168.3"/><use id="k50-4" href="#Bl" x="215"/><use id="k50-5" href="#Bl" x="261.7"/><use id="k50-6" href="#Bl" x="308.3"/><use id="k50-7" href="#Wl" x="355"/><use id="k50-8" href="#Wl" x="401.7"/><use id="k50-9" href="#Wl" x="448.3"/></g>
<g id="row51" transform="translate(0,2661.7)"><use id="k51-1" href="#Wr" x="75"/><use id="k51-2" href="#Wr" x="121.7"/><use id="k51-3" href="#Wr" x="168.3"/><use id="k51-4" href="#Dr" x="215"/><use id="k51-5" href="#Br" x="261.7"/><use id="k51-6" href="#Dr" x="308.3"/><use id="k51-7" href="#Wr" x="355"/><use id="k51-8" href="#Wr" x="401.7"/><use id="k51-9" href="#Wr" x="448.3"/></g>
<g id="row52" transform="translate(0,2713.7)"><use id="k52-1" href="#Wl" x="75"/><use id="k52-2" href="#Wl" x="121.7"/><use id="k52-3" href="#Wl" x="168.3"/><use id="k52-4" href="#Wl" x="215"/><use id="k52-5" href="#Bl" x="261.7"/><use id="k52-6" href="#Wl" x="308.3"/><use id="k52-7" href="#Wl" x="355"/><use id="k52-8" href="#Wl" x="401.7"/><use id="k52-9" href="#Wl" x="448.3"/></g>
<g id="row53" transform="translate(0,2765.7)"><use id="k53-1" href="#Wr" x="75"/><use id="k53-2" href="#Wr" x="121.7"/><use id="k53-3" href="#Wr" x="168.3"/><use id="k53-4" href="#Wr" x="215"/><use id="k53-5" href="#Dr" x="261.7"/><use id="k53-6" href="#Wr" x="308.3"/><use id="k53-7" href="#Wr" x="355"/><use id="k53-8" href="#Wr" x="401.7"/><use id="k53-9" href="#Wr" x="448.3"/></g>
<g id="row54" transform="translate(0,2817.7)"><use id="k54-1" href="#Wl" x="75"/><use id="k54-2" href="#Wl" x="121.7"/><use id="k54-3" href="#Wl" x="168.3"/><use id="k54-4" href="#Wl" x="215"/><use id="k54-5" href="#Wl" x="261.7"/><use id="k54-6" href="#Wl" x="308.3"/><use id="k54-7" href="#Wl" x="355"/><use id="k54-8" href="#Wl" x="401.7"/><use id="k54-9" href="#Wl" x="448.3"/></g>
<g id="row55" transform="translate(0,2869.7)"><use id="k55-1" href="#Wr" x="75"/><use id="k55-2" href="#Wr" x="121.7"/><use id="k55-3" href="#Wr" x="168.3"/><use id="k55-4" href="#Wr" x="215"/><use id="k55-5" href="#Wr" x="261.7"/><use id="k55-6" href="#Wr" x="308.3"/><use id="k55-7" href="#Wr" x="355"/><use id="k55-8" href="#Wr" x="401.7"/><use id="k55-9" href="#Wr" x="448.3"/></g>
<g id="row56" transform="translate(0,2921.7)"><use id="k56-1" href="#Wl" x="75"/><use id="k56-2" href="#Wl" x="121.7"/><use id="k56-3" href="#Wl" x="168.3"/><use id="k56-4" href="#Wl" x="215"/><use id="k56-5" href="#Wl" x="261.7"/><use id="k56-6" href="#Wl" x="308.3"/><use id="k56-7" href="#Wl" x="355"/><use id="k56-8" href="#Wl" x="401.7"/><use id="k56-9" href="#Wl" x="448.3"/></g>
</g>
<text id="watermark" x="261.7" y="1497.5" text-anchor="middle" font-family="'Liberation Sans',Arial,sans-serif" font-weight="bold" font-size="16" textLength="137" lengthAdjust="spacingAndGlyphs" fill="#444" stroke="#fff" stroke-width="2.5" paint-order="stroke" stroke-linejoin="round">BRACELETBOOK.COM</text>
</svg>
